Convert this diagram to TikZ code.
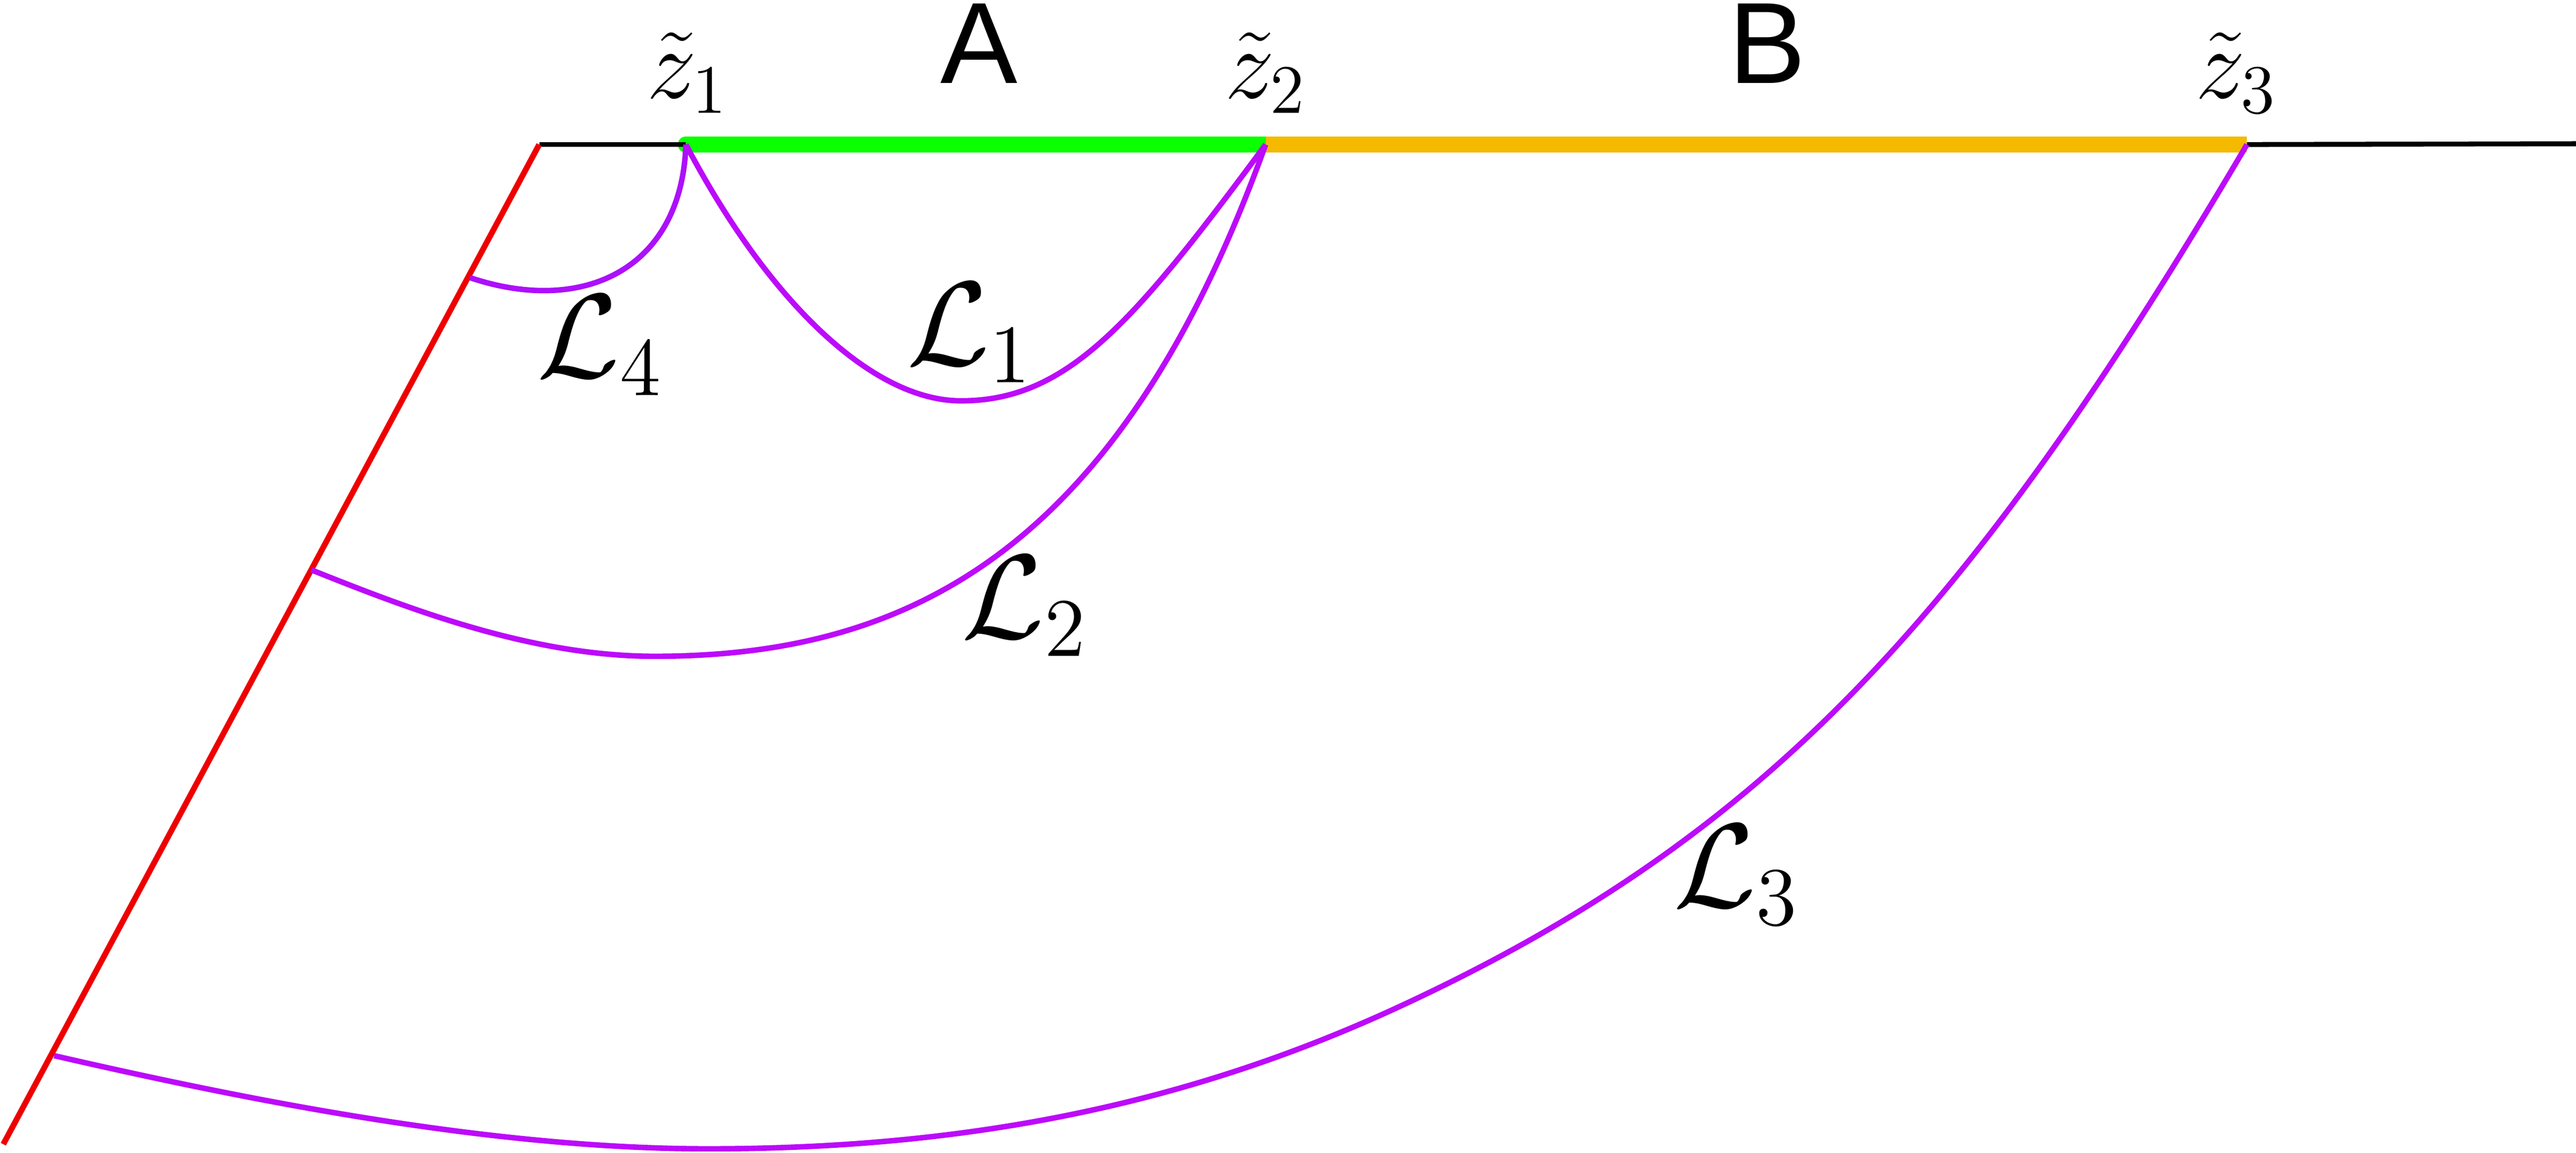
\documentclass[tikz,border=0pt]{standalone}
\usepackage{fontspec}
\newfontfamily\labfont{Liberation Sans}
\definecolor{redl}{RGB}{238,0,0}
\definecolor{purp}{RGB}{188,10,250}
\definecolor{purpd}{RGB}{172,16,250}
\definecolor{grn}{RGB}{10,255,0}
\definecolor{org}{RGB}{245,185,0}
\begin{document}
\begin{tikzpicture}[x=0.01cm,y=-0.01cm,
  thinline/.style={line width=0.85pt},
  curve/.style={line width=0.95pt, draw=purp},
  bar/.style={line width=2.79pt},
  llab/.style={inner sep=0pt, font=\huge},
  zlab/.style={inner sep=0pt, font=\LARGE},
  seglab/.style={inner sep=0pt, font=\labfont\fontsize{20}{24}\selectfont, anchor=base}]
\useasboundingbox (0,0) rectangle (1568,701.7);
% key points
\coordinate (R0) at (328.2,88);
\coordinate (R1) at (2,696.5);
\coordinate (z1) at (417.5,88);
\coordinate (z2) at (770.4,88);
\coordinate (z3) at (1367.7,88);
\coordinate (E) at (1568,87.5);
\coordinate (p4) at (286,169);
\coordinate (p2) at (189.5,346.9);
\coordinate (p3) at (33,642.6);
\coordinate (b1) at (585,244);
\coordinate (b2) at (398.5,399.5);
\coordinate (m3) at (852.1,612.6);
\coordinate (b3) at (431,699.3);
% boundary segments
\draw[bar, grn, line cap=round] (z1) -- (z2);
\draw[bar, org] (z2) -- (z3);
\draw[thinline] (R0) -- (z1);
\draw[thinline] (z3) -- (E);
\draw[line width=1pt, redl] (R0) -- (R1);
% curves
\draw[curve, draw=purpd] (z1) .. controls (415,163) and (356,192.5) .. (p4);
\draw[curve] (z1) .. controls (467.5,183) and (530.7,244) .. (b1)
             .. controls (650,244) and (690.4,196) .. (z2);
\draw[curve] (z2) .. controls (680.4,338) and (550.6,399.5) .. (b2)
             .. controls (323.6,399.5) and (249.5,370.9) .. (p2);
\draw[curve] (z3) .. controls (1199.5,373.2) and (1077.1,508.4) .. (m3)
             .. controls (722.1,672.8) and (587.9,699.3) .. (b3)
             .. controls (299.8,699.3) and (153,670.2) .. (p3);
% labels
\node[zlab] (t1) at (418.6,44.3) {$\tilde{z}_1$};
\node[zlab] (t2) at (770.5,44.5) {$\tilde{z}_2$};
\node[zlab] (t3) at (1361.3,44.3) {$\tilde{z}_3$};
\node[seglab] (lA) at (596,50.5) {A};
\node[seglab] (lB) at (1075.6,50.5) {B};
\node[llab] (l1) at (590.4,202.6) {$\mathcal{L}_1$};
\node[llab] (l2) at (623.9,369.1) {$\mathcal{L}_2$};
\node[llab] (l3) at (1057,532.7) {$\mathcal{L}_3$};
\node[llab] (l4) at (365.5,210.25) {$\mathcal{L}_4$};
\end{tikzpicture}
\end{document}
